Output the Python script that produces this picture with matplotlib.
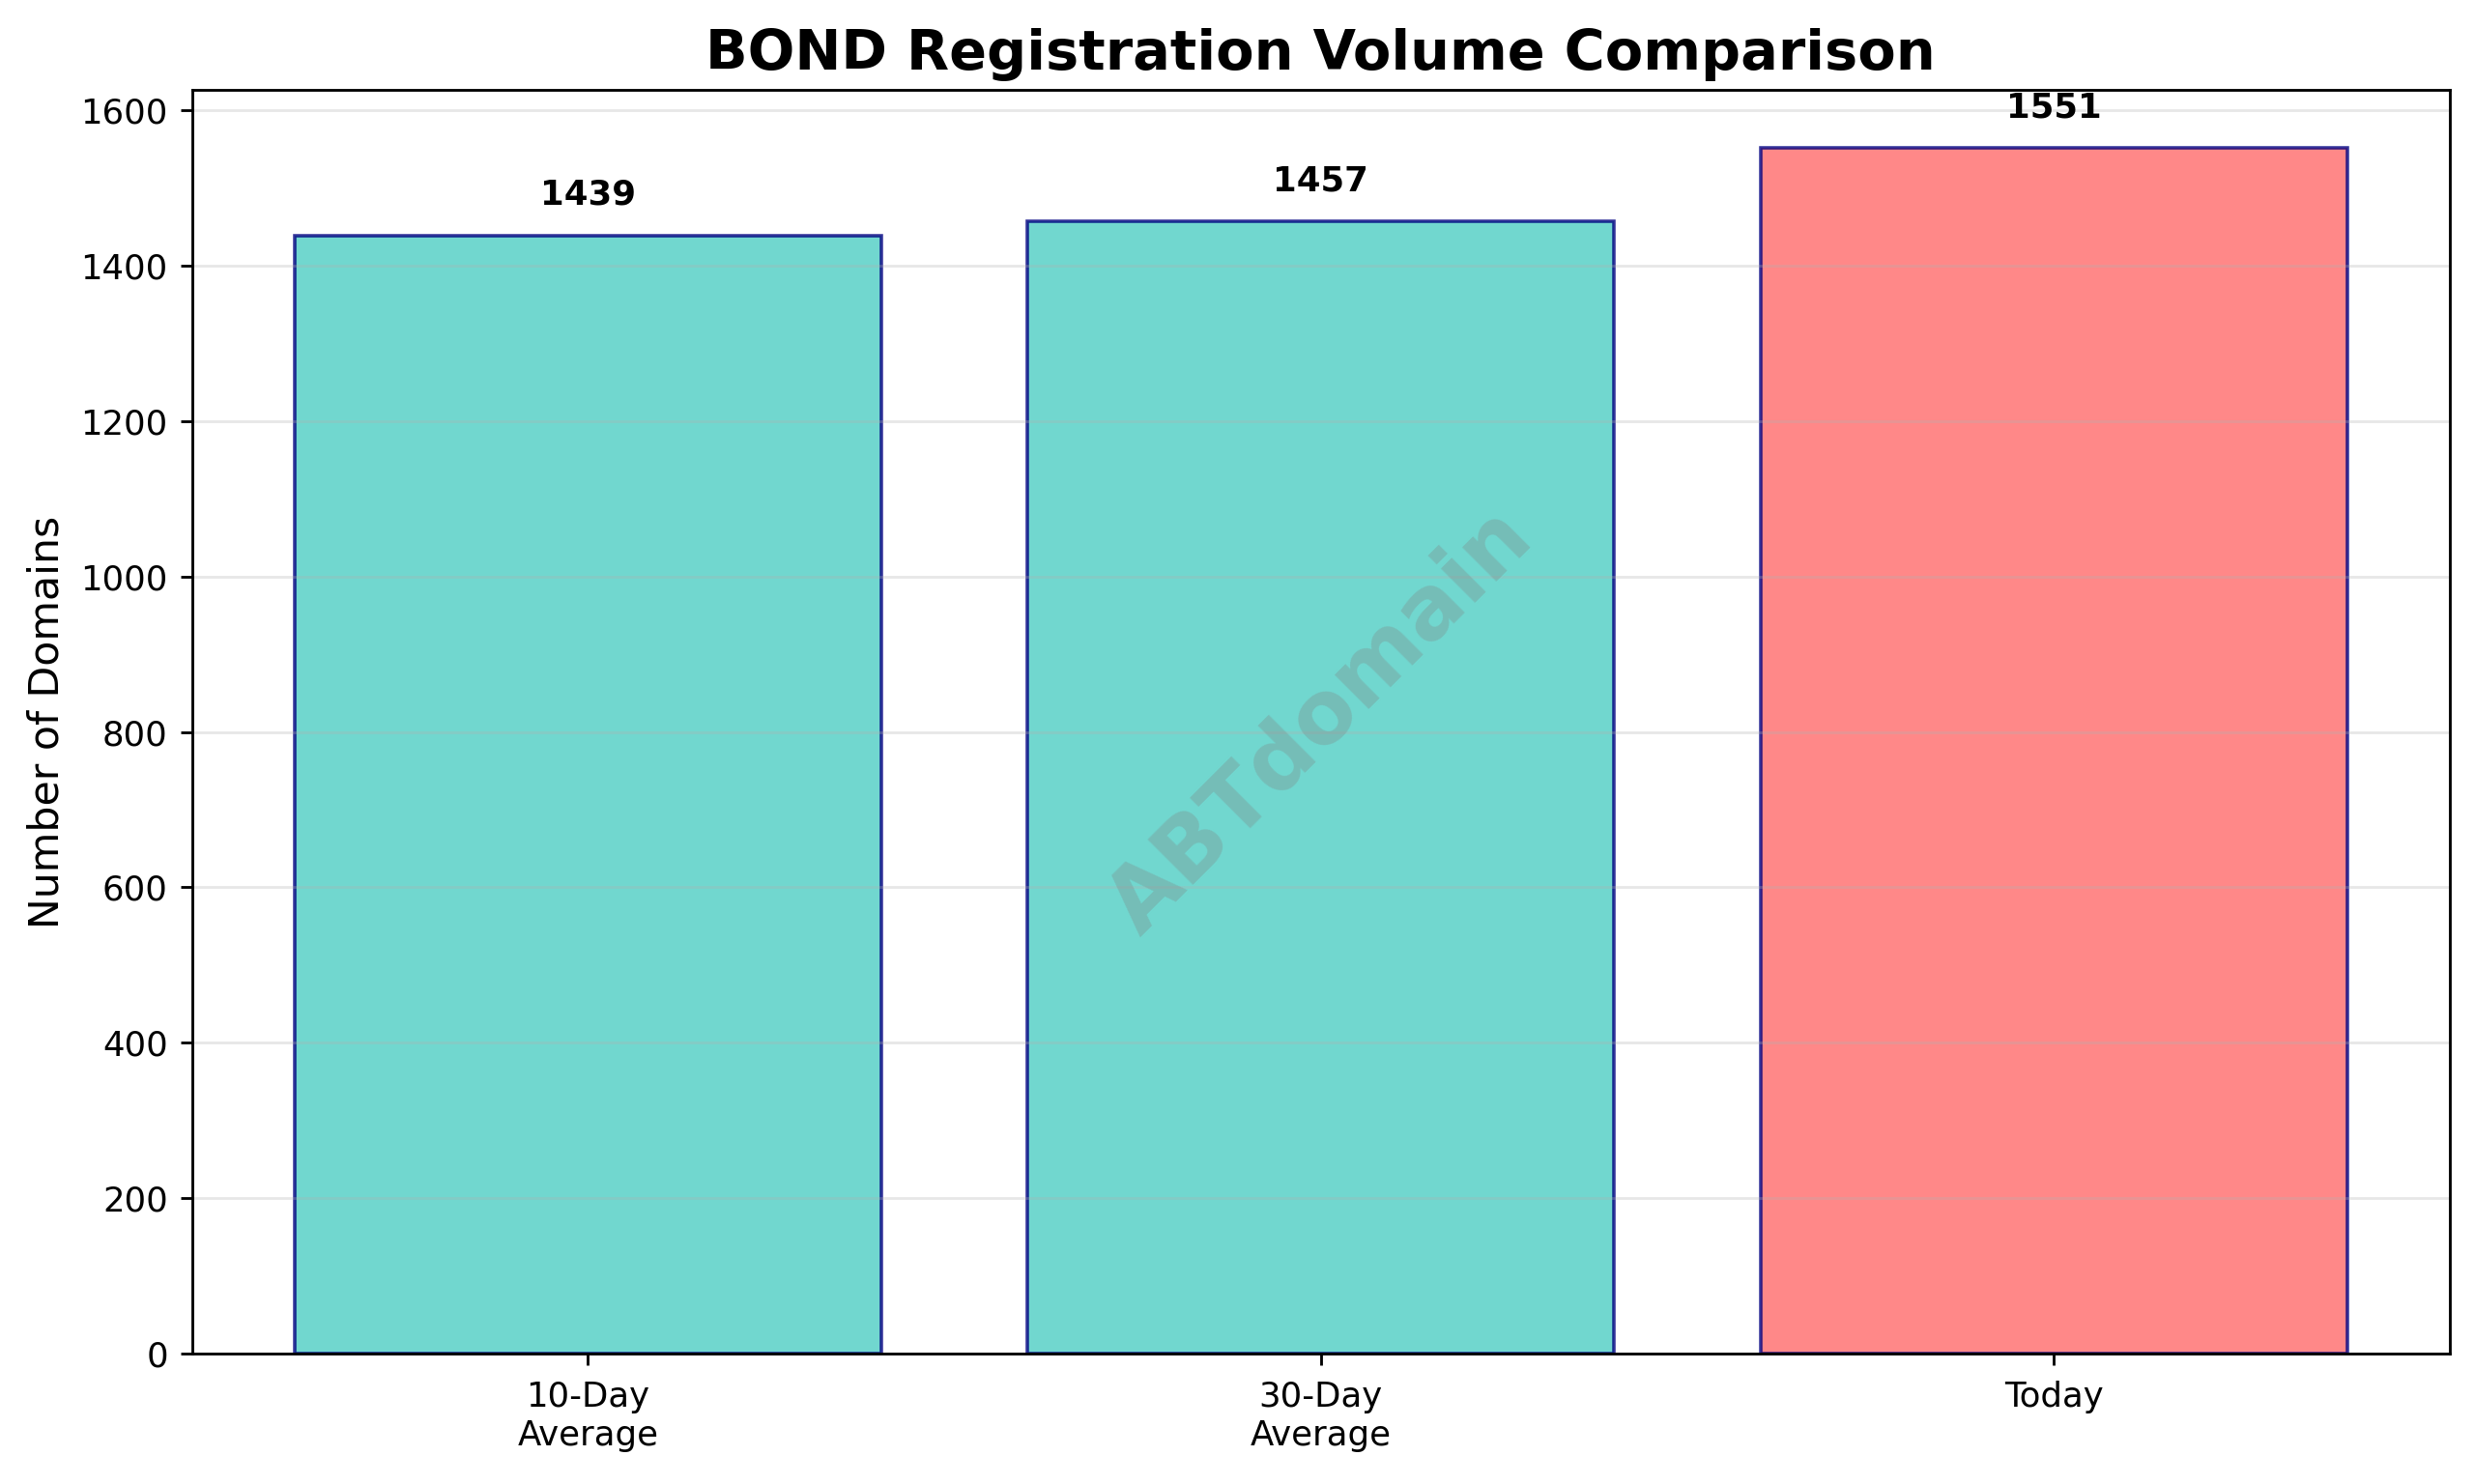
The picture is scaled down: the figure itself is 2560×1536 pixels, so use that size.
import matplotlib
matplotlib.use("Agg")
import matplotlib.pyplot as plt

categories = ["10-Day\nAverage", "30-Day\nAverage", "Today"]
values = [1439, 1457, 1551]
colors = ["#4ECDC4", "#4ECDC4", "#FF6B6B"]
yticks = [0, 200, 400, 600, 800, 1000, 1200, 1400, 1600]

fig, ax = plt.subplots(figsize=(10, 6), dpi=256)
bars = ax.bar(categories, values, color=colors, alpha=0.8, edgecolor="navy", linewidth=1)
for b, v in zip(bars, values):
    ax.text(b.get_x() + b.get_width() / 2, v + 31, str(v), ha="center", va="bottom",
            fontweight="bold", fontsize=10)
ax.set_title("BOND Registration Volume Comparison", fontsize=16.15, fontweight="bold")
ax.set_ylabel("Number of Domains", fontsize=12)
ax.set_yticks(yticks)
ax.tick_params(axis="x", pad=4.4)
ax.grid(axis="y", alpha=0.3)
ax.set_ylim(0, 1626)
ax.text(0.5, 0.5, "ABTdomain", transform=ax.transAxes, fontsize=25.5, color="gray", alpha=0.3,
        ha="center", va="center", rotation=45, fontweight="bold")
fig.subplots_adjust(left=0.0776, right=0.9902, top=0.9394, bottom=0.0878)
fig.savefig("out.png", dpi=256)
